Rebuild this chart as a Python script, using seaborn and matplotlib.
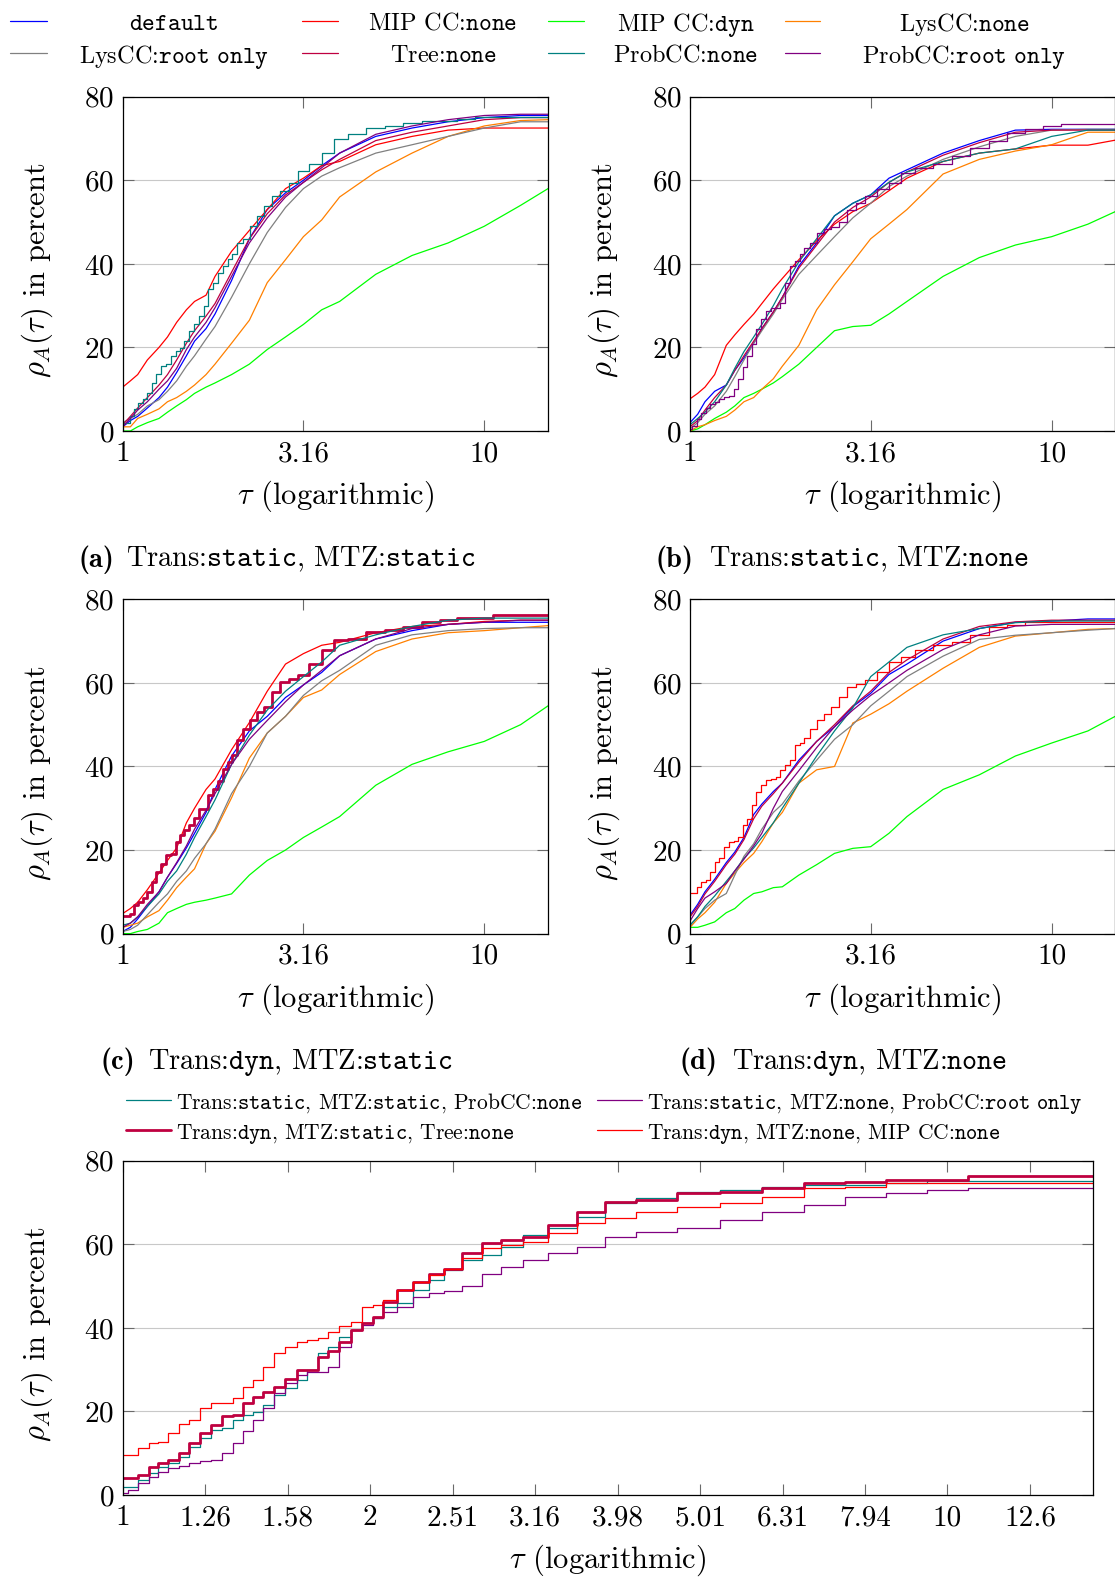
import matplotlib
matplotlib.use("Agg")
import matplotlib.pyplot as plt
from matplotlib.lines import Line2D
from matplotlib.ticker import NullLocator
import seaborn as sns
import pandas as pd

W, H = 1115, 1578

# legend entries / colours (order of drawing)
LABELS = [r"$\mathtt{default}$", r"MIP CC:$\mathtt{none}$", r"MIP CC:$\mathtt{dyn}$",
          r"LysCC:$\mathtt{none}$", r"LysCC:$\mathtt{root\ only}$", r"Tree:$\mathtt{none}$",
          r"ProbCC:$\mathtt{none}$", r"ProbCC:$\mathtt{root\ only}$"]
COLORS = ["#0000ff", "#ff0000", "#00ff00", "#ff8000", "#808080", "#bf0040", "#008080", "#800080"]

CAPTION_TAGS = ["(a)", "(b)", "(c)", "(d)"]
CAPTIONS = [r"Trans:$\mathtt{static}$, MTZ:$\mathtt{static}$",
            r"Trans:$\mathtt{static}$, MTZ:$\mathtt{none}$",
            r"Trans:$\mathtt{dyn}$, MTZ:$\mathtt{static}$",
            r"Trans:$\mathtt{dyn}$, MTZ:$\mathtt{none}$"]

BEST_LABELS = [r"Trans:$\mathtt{static}$, MTZ:$\mathtt{static}$, ProbCC:$\mathtt{none}$",
               r"Trans:$\mathtt{static}$, MTZ:$\mathtt{none}$, ProbCC:$\mathtt{root\ only}$",
               r"Trans:$\mathtt{dyn}$, MTZ:$\mathtt{static}$, Tree:$\mathtt{none}$",
               r"Trans:$\mathtt{dyn}$, MTZ:$\mathtt{none}$, MIP CC:$\mathtt{none}$"]

PANEL_XTICKS = [1, 3.162, 10]
PANEL_XTICKLABELS = ["1", "3.16", "10"]
BOTTOM_XTICKS = [1, 1.259, 1.585, 1.995, 2.512, 3.162, 3.981, 5.012, 6.310, 7.943, 10, 12.59]
BOTTOM_XTICKLABELS = ["1", "1.26", "1.58", "2", "2.51", "3.16", "3.98", "5.01", "6.31", "7.94", "10", "12.6"]
YTICKS = [0, 20, 40, 60, 80]

TAU = [1.0, 1.05, 1.1, 1.17, 1.26, 1.33, 1.41, 1.5, 1.58, 1.7, 1.8, 2.0, 2.24, 2.51,
       2.82, 3.16, 3.55, 3.98, 5.01, 6.31, 7.94, 10.0, 12.6, 15.0]
TAU_FINE = [1.0, 1.03, 1.06, 1.09, 1.12, 1.15, 1.19, 1.22, 1.26, 1.3, 1.34, 1.38, 1.42,
            1.46, 1.5, 1.55, 1.6, 1.65, 1.7, 1.75, 1.8, 1.86, 1.92, 1.98, 2.04, 2.1, 2.2,
            2.3, 2.4, 2.51, 2.65, 2.8, 2.95, 3.16, 3.4, 3.7, 3.98, 4.4, 5.01, 5.6, 6.31,
            7.1, 7.94, 8.9, 10.0, 11.2, 12.6, 15.0]

# best variants
best_a_prob_none = [2.0, 2.0, 3.6, 5.2, 6.8, 7.6, 9.2, 11.6, 13.6, 15.6, 16.0, 17.9, 19.1, 19.9,
                    21.5, 23.9, 25.5, 27.5, 29.9, 33.9, 35.5, 37.9, 39.5, 41.1, 42.3, 45.1, 45.9,
                    49.0, 51.4, 53.8, 56.2, 57.4, 59.4, 62.2, 63.8, 66.6, 69.8, 71.0, 72.6, 73.1,
                    73.8, 74.2, 74.2, 74.7, 75.2, 75.2, 75.2, 75.2]
best_b_prob_root = [0.4, 1.2, 2.8, 4.4, 5.6, 6.4, 6.9, 7.6, 8.2, 8.4, 10.0, 12.4, 15.2, 17.9,
                    20.7, 24.3, 26.7, 28.7, 29.5, 29.5, 30.7, 35.5, 39.5, 40.7, 42.3, 43.9, 45.1,
                    47.5, 48.3, 48.7, 49.9, 53.0, 54.6, 56.2, 57.8, 59.4, 61.8, 63.0, 63.8, 65.8,
                    67.8, 69.4, 71.4, 72.2, 73.0, 73.5, 73.5, 73.5]
best_c_tree_none = [4.1, 4.1, 4.8, 6.8, 7.6, 8.4, 10.0, 12.4, 14.8, 16.7, 18.9, 19.1, 21.9, 23.5,
                    24.7, 25.9, 27.7, 29.9, 29.9, 33.1, 34.5, 36.5, 39.5, 41.1, 42.7, 46.3, 49.0,
                    51.0, 53.0, 54.2, 57.8, 60.2, 61.0, 61.8, 64.6, 67.8, 70.2, 70.6, 72.2, 72.6,
                    73.4, 74.6, 75.0, 75.5, 75.5, 76.3, 76.3, 76.3]
best_d_mip_none = [9.6, 9.6, 11.2, 12.4, 12.8, 14.8, 17.1, 18.0, 20.7, 21.9, 22.1, 23.1, 25.9, 27.5,
                   30.7, 33.9, 35.5, 36.7, 37.1, 37.5, 39.1, 40.4, 41.5, 45.1, 45.5, 46.7, 49.0,
                   51.0, 52.6, 54.2, 56.6, 59.0, 59.8, 60.6, 62.6, 65.0, 66.2, 67.8, 69.0, 69.8,
                   71.4, 73.4, 73.8, 74.6, 74.6, 74.6, 74.6, 74.6]

# (a) Trans:static, MTZ:static
a_default = [1, 2.5, 3.5, 5.5, 8, 10.5, 14, 18, 21.5, 24.5, 28, 36, 46, 53, 57, 60, 63.5, 66.5, 70.5, 72.5, 74, 75, 75.5, 75.5]
a_mip_none = [10.5, 12, 13.5, 17, 20, 22.5, 26, 29, 31, 32.5, 37, 43, 48, 53, 58, 60.5, 63.5, 64.5, 68.5, 70.5, 72, 72.5, 72.5, 72.5]
a_mip_dyn = [0, 0, 1, 2, 3, 4.5, 6, 7.5, 9, 10.5, 11.5, 13.5, 16, 19.5, 22.5, 25.5, 29, 31, 37.5, 42, 45, 49, 54, 58]
a_lys_none = [1, 1, 3, 4, 5.3, 7, 8, 9.5, 11, 13.5, 16, 21, 26.5, 35.5, 41, 46.5, 50.5, 56, 62, 66.5, 70.5, 73, 74.3, 74.5]
a_lys_root = [2, 3, 4, 6, 7.5, 9.5, 12, 15.5, 18, 22, 25, 32, 40, 47.5, 53.5, 58, 61, 63, 66.5, 68.5, 70.5, 72.5, 74, 74]
a_tree_none = [1.5, 3.5, 5.5, 8, 11, 13.5, 17, 21, 24, 27.5, 30.5, 38, 46, 52, 56.5, 59.5, 62.5, 65, 69.5, 71.5, 73, 74.5, 75, 75]
a_prob_root = [1, 3, 5, 7, 10, 12, 15, 19.5, 22.5, 26, 29.5, 37, 45, 51, 56, 59.5, 63, 66.5, 71, 73, 74.5, 75.5, 75.8, 75.8]

# (b) Trans:static, MTZ:none
b_default = [2, 4, 7, 9.5, 11, 14.5, 17.5, 21, 24.5, 28.5, 32, 39.5, 45, 51.5, 54.5, 56.5, 60.5, 62.5, 66.5, 69.5, 72, 72.2, 72.2, 72.2]
b_mip_none = [7.7, 9, 10.5, 13.5, 20.5, 23, 25.5, 28, 30.5, 34, 36.5, 41, 45.5, 49.5, 52.5, 54.5, 57.5, 60.5, 64.5, 66.5, 67.5, 68.4, 68.4, 69.6]
b_mip_dyn = [0, 0.5, 1.5, 3, 4.5, 6, 8, 9, 10, 11.5, 13, 16, 20, 24, 25, 25.3, 28, 31, 37, 41.5, 44.5, 46.5, 49.5, 52.5]
b_lys_none = [0, 1, 1.5, 2.5, 3.5, 5, 7, 8, 10, 12.5, 15.5, 20.5, 29, 35, 40.5, 46, 49.5, 53, 61.5, 65, 67, 68.5, 71.5, 71.5]
b_lys_root = [0.5, 2, 4, 6, 9.5, 13, 17, 21, 24, 28, 31.5, 37.5, 42, 46.5, 51, 54.5, 58.5, 61, 65, 68, 70.5, 72, 72.2, 72.2]
b_tree_none = [1, 2.5, 5, 8, 11, 14.5, 18, 21.5, 24.5, 28.5, 32, 39, 44.5, 50, 53.5, 56, 59.5, 62, 66, 69, 71.5, 72, 72, 72]
b_prob_none = [1.5, 3, 4.5, 7, 11, 15, 19, 22.5, 25.5, 30, 34, 40.5, 46, 51.5, 54.5, 56.5, 59.5, 62, 64.5, 66.5, 67.5, 70.5, 72, 72]

# (c) Trans:dyn, MTZ:static
c_default = [0.5, 1.5, 3.5, 6.5, 10, 13.5, 16.8, 20.5, 24, 29, 34.5, 42.5, 48.5, 52, 56.5, 59.5, 62.5, 66.5, 70.5, 72.5, 74, 74.5, 74.5, 74.5]
c_mip_none = [4.8, 6, 7.5, 10.5, 14.5, 17.5, 20.5, 26.5, 30, 34.5, 37, 44, 50.5, 58, 64.5, 67, 69, 69.7, 72, 73.5, 74, 74.7, 75, 75]
c_mip_dyn = [0, 0, 0.5, 1, 2.5, 5, 6, 7, 7.5, 8, 8.5, 9.5, 14, 17.5, 20, 23, 25.5, 28, 35.5, 40.5, 43.5, 46, 50, 54.5]
c_lys_none = [1.5, 2, 2.5, 4, 5.5, 8, 11, 13.5, 15.5, 21.5, 24.5, 32.5, 42, 48, 52, 56.5, 58.3, 62, 67.5, 70.5, 72, 72.5, 73.2, 73.7]
c_lys_root = [0.5, 1, 2, 4.5, 7.5, 9.5, 12.5, 15, 18, 21.5, 25, 33.5, 40, 48, 52, 57, 60.5, 63, 69, 71.5, 72.5, 73, 73.2, 73.2]
c_prob_none = [2, 2.5, 4, 6.5, 9.5, 12.5, 15, 19, 23, 28, 32, 40.5, 47.5, 53.5, 58, 61.5, 65, 69, 71.5, 73.5, 75, 75.5, 75.5, 75.5]
c_prob_root = [1.5, 2.5, 4, 7, 10, 13.5, 17, 21, 25, 29.5, 33.5, 40.5, 46.5, 51, 55.5, 59.5, 63, 66.5, 70.5, 73, 74, 74.5, 75, 75]

# (d) Trans:dyn, MTZ:none
d_default = [4.4, 7, 10, 13, 17, 19.5, 23, 28.5, 31, 34, 36, 41.5, 46, 49.5, 54.3, 57.5, 62, 64.5, 70, 73, 74.5, 74.8, 75.3, 75.3]
d_mip_dyn = [1.5, 1.5, 2, 2.8, 5, 6, 8, 9.6, 10, 11, 11.2, 14, 16.5, 19.2, 20.4, 20.8, 24, 28, 34.5, 38, 42.5, 45.6, 48.5, 52]
d_lys_none = [1.5, 3.5, 5, 7.5, 12, 14.5, 17, 19.2, 22, 26.5, 29, 36, 39.2, 40, 50.4, 52.5, 55, 58, 63.5, 68.5, 71.2, 72, 72.8, 73]
d_lys_root = [2, 4, 6, 8, 9.6, 14, 18.5, 21.5, 25, 29, 31, 36.5, 41.5, 46.5, 50, 54.5, 58, 61.5, 66.4, 70.4, 71.4, 72, 72.6, 73]
d_tree_none = [4, 6.5, 9.5, 12.5, 16.5, 19, 22.5, 27.5, 30.5, 33.5, 36, 41, 46, 50, 54.5, 58, 62.5, 65.5, 70.5, 73.5, 74.6, 75, 75, 75]
d_prob_none = [2, 4, 6.5, 9, 12.5, 15, 18, 20.5, 23, 26.5, 30, 36, 42.5, 48.5, 54, 61.5, 65, 68.5, 71.5, 73, 74.4, 74.8, 74.8, 74.8]
d_prob_root = [3, 6, 8.5, 10, 12, 15, 17.8, 21, 24, 30, 34, 39, 44.5, 49.5, 53.5, 57, 60, 63, 68, 71.5, 73.6, 74, 74, 74]

PANELS = [
    [(TAU, a_default), (TAU, a_mip_none), (TAU, a_mip_dyn), (TAU, a_lys_none), (TAU, a_lys_root),
     (TAU, a_tree_none), (TAU_FINE, best_a_prob_none), (TAU, a_prob_root)],
    [(TAU, b_default), (TAU, b_mip_none), (TAU, b_mip_dyn), (TAU, b_lys_none), (TAU, b_lys_root),
     (TAU, b_tree_none), (TAU, b_prob_none), (TAU_FINE, best_b_prob_root)],
    [(TAU, c_default), (TAU, c_mip_none), (TAU, c_mip_dyn), (TAU, c_lys_none), (TAU, c_lys_root),
     (TAU_FINE, best_c_tree_none), (TAU, c_prob_none), (TAU, c_prob_root)],
    [(TAU, d_default), (TAU_FINE, best_d_mip_none), (TAU, d_mip_dyn), (TAU, d_lys_none), (TAU, d_lys_root),
     (TAU, d_tree_none), (TAU, d_prob_none), (TAU, d_prob_root)],
]
BEST = [(best_a_prob_none, "#008080", 0.9), (best_b_prob_root, "#800080", 0.9),
        (best_c_tree_none, "#bf0040", 2.0), (best_d_mip_none, "#ff0000", 0.9)]

sns.set_theme(style="white")
plt.rcParams["font.family"] = ["cmr10", "DejaVu Serif"]
plt.rcParams["mathtext.fontset"] = "cm"
plt.rcParams["axes.formatter.use_mathtext"] = True
plt.rcParams["text.color"] = "black"
plt.rcParams["axes.labelcolor"] = "black"


def fx(x):
    return x / W


def fy(y):
    return 1 - y / H


def style_axes(ax, xticks, xticklabels, ylab_x):
    ax.set_xscale("log")
    ax.set_xlim(1, 15)
    ax.set_ylim(0, 80)
    ax.set_xticks(xticks)
    ax.set_xticklabels(xticklabels)
    ax.xaxis.set_minor_locator(NullLocator())
    ax.set_yticks(YTICKS)
    ax.yaxis.grid(True, color="#c8c8c8", lw=0.8)
    ax.xaxis.grid(False)
    ax.set_axisbelow(True)
    ax.tick_params(axis="both", which="major", direction="in", length=8, width=0.8,
                   color="#6a6a6a", bottom=True, top=True, left=True, right=True,
                   labelsize=21, labelcolor="black")
    ax.tick_params(axis="x", pad=7)
    ax.tick_params(axis="y", pad=6)
    for s in ax.spines.values():
        s.set_color("black")
        s.set_linewidth(0.9)
    ax.set_xlabel(r"$\tau$ (logarithmic)", fontsize=22)
    ax.set_ylabel(r"$\rho_A(\tau)$ in percent", fontsize=22)
    ax.xaxis.label.set_va("center")
    ax.yaxis.label.set_va("center")
    ax.xaxis.set_label_coords(0.5, -0.196)
    ax.yaxis.set_label_coords(ylab_x, 0.48)


def draw(ax, tau, vals, color, lw):
    df = pd.DataFrame({"tau": tau, "rho": vals})
    style = "steps-mid" if len(tau) == len(TAU_FINE) else "default"
    sns.lineplot(data=df, x="tau", y="rho", ax=ax, color=color, lw=lw,
                 drawstyle=style, estimator=None, sort=False, legend=False)


fig = plt.figure(figsize=(W / 100, H / 100), dpi=100)
fig.patch.set_facecolor("white")

panel_left = [122.7, 690, 122.7, 690]
panel_top = [96.7, 96.7, 599.3, 599.3]
cap_tag_x = [78.5, 656, 100.6, 680]
cap_text_x = [126.5, 709, 148.5, 732]
cap_y = [556, 556, 1058, 1058]

for k in range(4):
    ax = fig.add_axes([fx(panel_left[k]), fy(panel_top[k] + 334.3), fx(425.3), 334.3 / H])
    for i, (tau, vals) in enumerate(PANELS[k]):
        lw = 2.0 if (k == 2 and i == 5) else 0.9
        draw(ax, tau, vals, COLORS[i], lw)
    style_axes(ax, PANEL_XTICKS, PANEL_XTICKLABELS, -0.201)
    fig.text(fx(cap_tag_x[k]), fy(cap_y[k]), CAPTION_TAGS[k], fontsize=20.5,
             family="cmb10", ha="left", va="center_baseline")
    fig.text(fx(cap_text_x[k]), fy(cap_y[k]), CAPTIONS[k], fontsize=20.5,
             ha="left", va="center_baseline")

# wide comparison plot
axb = fig.add_axes([fx(122.7), fy(1495), fx(970), 334.3 / H])
for vals, color, lw in BEST:
    draw(axb, TAU_FINE, vals, color, lw)
style_axes(axb, BOTTOM_XTICKS, BOTTOM_XTICKLABELS, -0.088)

# top legend (4 columns, centred text)
handle_x = [(10, 47), (302, 338), (548, 584), (785, 820)]
text_x = [174, 443, 686, 964]
rows_y = [21, 53]
for i, label in enumerate(LABELS):
    r, c = divmod(i, 4)
    y = rows_y[r]
    fig.add_artist(Line2D([fx(handle_x[c][0]), fx(handle_x[c][1])], [fy(y), fy(y)],
                          color=COLORS[i], lw=0.9, transform=fig.transFigure))
    fig.text(fx(text_x[c]), fy(y), label, fontsize=17.5, ha="center", va="center_baseline")

# bottom legend (2 columns, left aligned)
best_handle_x = [(126, 171), (597, 642)]
best_rows_y = [1100, 1130]
for i, label in enumerate(BEST_LABELS):
    r, c = divmod(i, 2)
    y = best_rows_y[r]
    fig.add_artist(Line2D([fx(best_handle_x[c][0]), fx(best_handle_x[c][1])], [fy(y), fy(y)],
                          color=BEST[i][1], lw=BEST[i][2], transform=fig.transFigure))
    fig.text(fx(best_handle_x[c][1] + 5), fy(y), label, fontsize=15.5, ha="left",
             va="center_baseline")

fig.savefig("out.png", dpi=100)
